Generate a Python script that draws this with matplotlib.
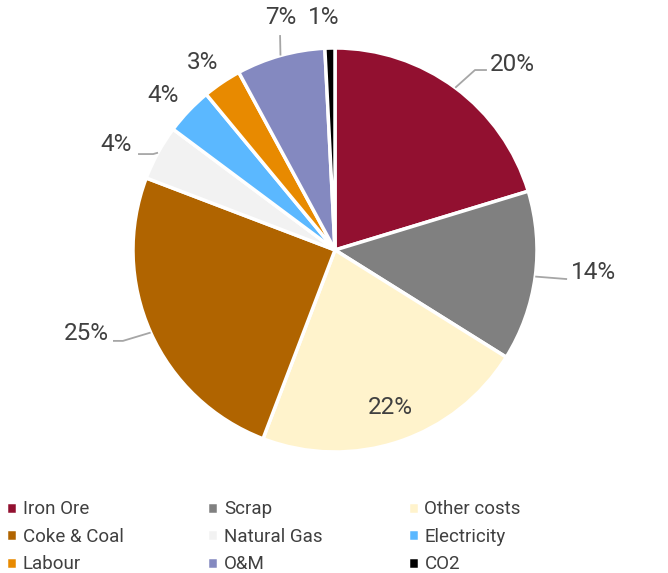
import numpy as np
import matplotlib.pyplot as plt

categories = ["Iron Ore", "Scrap", "Other costs", "Coke & Coal", "Natural Gas",
              "Electricity", "Labour", "O&M", "CO2"]
shares = [20.3, 13.6, 21.9, 25.0, 4.4, 3.8, 3.1, 7.1, 0.8]
colors = ["#921030", "#808080", "#FFF3CC", "#B06400", "#F2F2F2",
          "#5BB8FF", "#E88A00", "#8489C0", "#000000"]

# label text position (pie data units) and optional leader path
label_pos = [(0.88, 0.92), (1.28, -0.11), (0.272, -0.782), (-1.233, -0.411),
             (-1.084, 0.52), (-0.851, 0.767), (-0.658, 0.926),
             (-0.267, 1.149), (-0.054, 1.149)]
leaders = {
    0: [(0.693, 0.891), (0.752, 0.891)],
    1: [(1.149, -0.144)],
    3: [(-1.05, -0.45), (-1.099, -0.45)],
    4: [(-0.90, 0.475), (-0.975, 0.475)],
    7: [(-0.272, 1.064)],
}

plt.rcParams['font.family'] = ['Roboto', 'DejaVu Sans']
fig = plt.figure(figsize=(6.68, 5.73), dpi=100)
ax = fig.add_axes([133 / 668, 121 / 573, 404 / 668, 404 / 573])

wedges, _ = ax.pie(shares, colors=colors, startangle=90, counterclock=False,
                   radius=1.0, wedgeprops=dict(edgecolor="white", linewidth=2.5))
ax.set_xlim(-1, 1)
ax.set_ylim(-1, 1)
ax.set_aspect("equal")
ax.axis("off")

for i, (w, v) in enumerate(zip(wedges, shares)):
    mid = np.deg2rad((w.theta1 + w.theta2) / 2)
    edge = (np.cos(mid), np.sin(mid))
    if i in leaders:
        pts = [edge] + leaders[i]
        ax.plot([p[0] for p in pts], [p[1] for p in pts], color="#A6A6A6",
                lw=1.3, clip_on=False, solid_capstyle="butt")
    tx, ty = label_pos[i]
    ax.text(tx, ty, f"{v:.0f}%", ha="center", va="center", fontsize=17.5,
            color="#404040", clip_on=False)

# legend laid out row by row in three columns
col_x = [-0.005, 0.296, 0.596]
for c in range(3):
    idx = [c, c + 3, c + 6]
    fig.legend([wedges[k] for k in idx], [categories[k] for k in idx],
               loc="upper left", bbox_to_anchor=(col_x[c], 0.143), ncol=1,
               frameon=False, fontsize=13.5, handlelength=0.6, handleheight=0.6,
               handletextpad=0.3, labelspacing=0.5, borderpad=0.0,
               labelcolor="#404040")

fig.savefig("out.png", dpi=100)
